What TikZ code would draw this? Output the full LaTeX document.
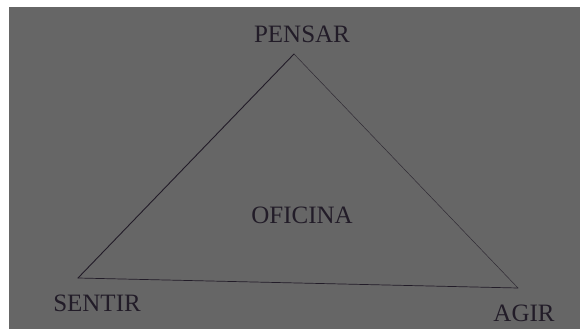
\documentclass[tikz,border=0pt]{standalone}
\usepackage{fontspec}
\setmainfont{Liberation Serif}
\usepackage{xcolor}
\usetikzlibrary{positioning}

\definecolor{fundo}{RGB}{102,102,102}
\definecolor{tinta}{RGB}{34,28,40}

\tikzset{
    rotulo/.style={text=tinta, font=\fontsize{25}{30}\selectfont, inner sep=0pt},
    lado/.style={draw=tinta, line cap=round}
}

\begin{document}
\begin{tikzpicture}[x=1pt, y=-1pt]
    \fill[white] (0,0) rectangle (580,331);
    \fill[fundo] (9,7) rectangle (580,329);
    \useasboundingbox (0,0) rectangle (580,331);

    % vertices of the triangle
    \coordinate (topo) at (294,54);
    \coordinate (esq) at (78,278);
    \coordinate (dir) at (518,288);

    \node[rotulo] (pensar) at (302,34) {PENSAR};
    \node[rotulo] (sentir) at (97,303) {SENTIR};
    \node[rotulo] (agir) at (524,313) {AGIR};
    \node[rotulo] (oficina) at (302,215) {OFICINA};

    \draw[lado, line width=0.9pt] (esq) -- (topo);
    \draw[lado, line width=0.5pt, draw opacity=0.8] (topo) -- (dir);
    \draw[lado, line width=0.7pt] (esq) -- (dir);
\end{tikzpicture}
\end{document}
